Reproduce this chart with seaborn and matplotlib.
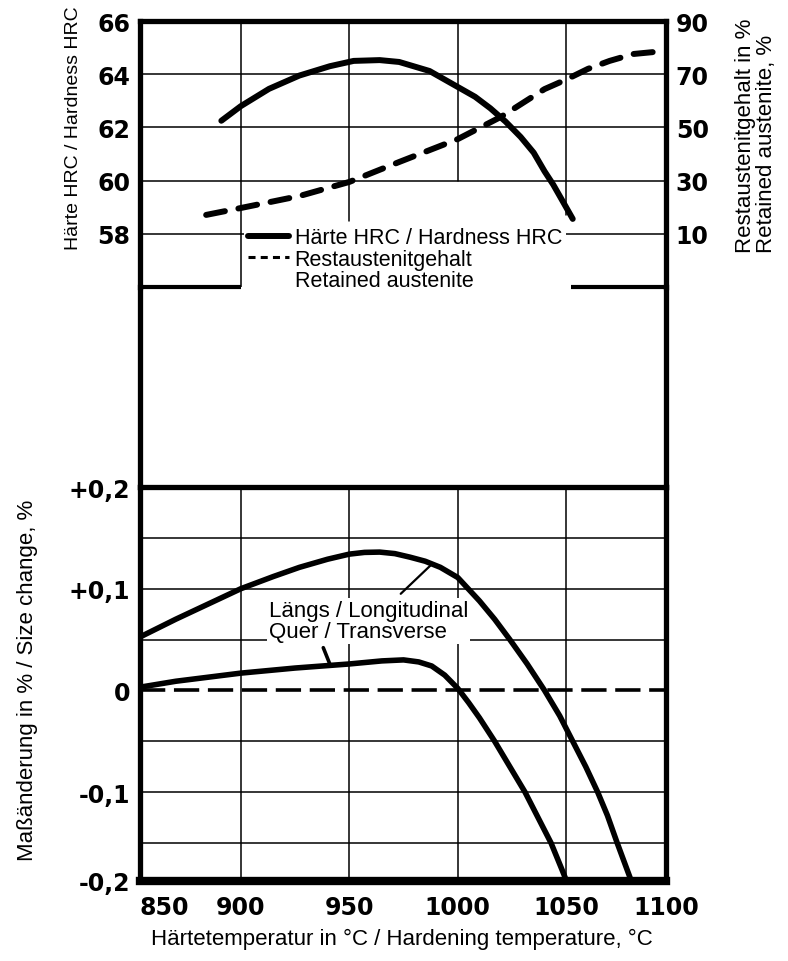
import matplotlib
matplotlib.use("Agg")
import matplotlib.pyplot as plt
import seaborn as sns
import pandas as pd
from matplotlib.lines import Line2D

# ---------------- data ----------------
hard_temp = [891, 900, 913, 927, 941, 952, 964, 973, 987, 1000, 1008, 1015, 1022, 1029, 1035, 1040, 1044, 1047.5, 1053]
hard_hrc = [62.25, 62.8, 63.45, 63.95, 64.3, 64.5, 64.53, 64.46, 64.12, 63.52, 63.15, 62.72, 62.22, 61.64,
            61.05, 60.35, 59.85, 59.35, 58.56]

ra_temp = [884, 900, 927, 950, 973, 1000, 1020, 1040, 1050, 1060, 1070, 1081, 1095]
ra_pct = [17.1, 19.7, 24.2, 29.5, 37.0, 45.6, 54.0, 64.4, 68.0, 72.0, 75.0, 77.6, 78.7]

laengs_temp = [853, 870, 885, 900, 915, 927, 940, 950, 957, 964, 971, 978, 985, 992, 1000, 1010, 1017, 1024,
               1032, 1040, 1047, 1053, 1059, 1064.5, 1069, 1073.5, 1080, 1082]
laengs_chg = [0.052, 0.07, 0.085, 0.1, 0.112, 0.121, 0.129, 0.134, 0.1357, 0.136, 0.1345, 0.131, 0.127,
              0.121, 0.111, 0.088, 0.07, 0.05, 0.026, 0.0, -0.025, -0.05, -0.075, -0.1, -0.123, -0.15,
              -0.1874, -0.2]

quer_temp = [853, 870, 900, 925, 950, 965, 975, 982, 988, 994, 1000, 1005, 1010, 1017, 1024, 1031, 1037,
             1043, 1048, 1052.5]
quer_chg = [0.003, 0.009, 0.017, 0.022, 0.026, 0.029, 0.03, 0.028, 0.024, 0.015, 0.002, -0.012, -0.027,
            -0.05, -0.075, -0.1, -0.125, -0.15, -0.176, -0.2]

x_tick_pos = [853.5, 900, 950, 1000, 1050, 1096]
x_tick_labels = ["850", "900", "950", "1000", "1050", "1100"]
hrc_ticks = [58, 60, 62, 64, 66]
ra_ticks = [10, 30, 50, 70, 90]
chg_tick_pos = [0.2, 0.1, 0.0, -0.1, -0.1874]
chg_tick_labels = ["+0,2", "+0,1", "0", "-0,1", "-0,2"]

legend_labels = ["Härte HRC / Hardness HRC", "Restaustenitgehalt", "Retained austenite"]

# ---------------- style ----------------
sns.set_theme(style="white")
plt.rcParams["font.family"] = ["Liberation Sans", "DejaVu Sans"]
for k in ["text.color", "axes.labelcolor", "xtick.color", "ytick.color", "axes.edgecolor"]:
    plt.rcParams[k] = "black"

XLIM = (853.5, 1096)
GRID = dict(color="black", lw=1.1, zorder=1)
SPINE_W = 3.8
TICKFONT = dict(fontfamily="DejaVu Sans", fontweight="bold", fontsize=17)

fig = plt.figure(figsize=(7.88, 9.62), dpi=100)
L, W = 140 / 788, 526 / 788
fy = lambda px: 1 - px / 962
ax_top = fig.add_axes([L, fy(288), W, (288 - 22) / 962])
ax_mid = fig.add_axes([L, fy(488), W, (488 - 288) / 962])
ax_bot = fig.add_axes([L, fy(882), W, (882 - 488) / 962])
for ax in (ax_top, ax_mid, ax_bot):
    ax.set_xlim(*XLIM)
    ax.set_facecolor("none")

xfrac = lambda t: (t - XLIM[0]) / (XLIM[1] - XLIM[0])

# ---------------- top panel ----------------
ax_top.set_ylim(56, 66)
for v in [58, 60, 62, 64]:
    ax_top.axhline(v, **GRID)
for xv, lo in [(900, 0), (950, 0.25), (1000, 0.4), (1050, 0.27)]:
    ax_top.axvline(xv, ymin=lo, **GRID)
ax_top.axhline(56, xmin=0, xmax=xfrac(900), color="black", lw=3, clip_on=False, solid_capstyle="butt")
ax_top.axhline(56, xmin=xfrac(1052), xmax=1, color="black", lw=3, clip_on=False, solid_capstyle="butt")

sns.lineplot(x=hard_temp, y=hard_hrc, ax=ax_top, color="black", lw=4.3,
             solid_capstyle="round", solid_joinstyle="round", errorbar=None, zorder=4)

ax_top.set_xticks([])
ax_top.set_yticks(hrc_ticks)
ax_top.set_yticklabels([str(v) for v in hrc_ticks], **TICKFONT)
ax_top.tick_params(axis="y", length=0, pad=7)
ax_top.spines["bottom"].set_visible(False)
for s in ["left", "right", "top"]:
    ax_top.spines[s].set_linewidth(SPINE_W)

ax2 = ax_top.twinx()
ax2.set_ylim(-10, 90)
sns.lineplot(x=ra_temp, y=ra_pct, ax=ax2, color="black", lw=4.3, linestyle=(0, (3.2, 2.3)),
             dash_capstyle="round", dash_joinstyle="round", errorbar=None, zorder=4)
ax2.set_yticks(ra_ticks)
ax2.set_yticklabels([str(v) for v in ra_ticks], **TICKFONT)
ax2.tick_params(axis="y", length=0, pad=7)
ax2.grid(False)
for s in ax2.spines.values():
    s.set_visible(False)

handles = [Line2D([], [], color="black", lw=4.3),
           Line2D([], [], color="black", lw=2.2, linestyle=(0, (2.3, 1.7))),
           Line2D([], [], color="none")]
leg = ax2.legend(handles, legend_labels, loc="upper left", bbox_to_anchor=(0.1977, 0.2406),
                 borderaxespad=0, borderpad=0.2, frameon=True, fancybox=False, facecolor="white",
                 edgecolor="none", framealpha=1, handlelength=1.9, handletextpad=0.25,
                 labelspacing=0.02, fontsize=15.5)
leg.set_zorder(10)

ax_top.set_ylabel("Härte HRC / Hardness HRC", fontsize=14, rotation=90, rotation_mode="default",
                  ha="center", va="center")
ax_top.yaxis.set_label_coords(-0.1255, 0.6015)
ax2.set_ylabel("Restaustenitgehalt in %\nRetained austenite, %", fontsize=16, rotation=90,
               rotation_mode="default", ha="center", va="center", multialignment="left", linespacing=1.0)
ax2.yaxis.set_label_coords(1.1720, 0.571)

# ---------------- middle (frame only) ----------------
ax_mid.set_xticks([])
ax_mid.set_yticks([])
ax_mid.spines["top"].set_visible(False)
ax_mid.spines["bottom"].set_visible(False)
for s in ["left", "right"]:
    ax_mid.spines[s].set_linewidth(SPINE_W)

# ---------------- bottom panel ----------------
ax_bot.set_ylim(-0.1874, 0.2)
for v in [0.15, 0.1, 0.05, -0.05, -0.1, -0.15]:
    ax_bot.axhline(v, **GRID)
for xv in [900, 950, 1000, 1050]:
    ax_bot.axvline(xv, **GRID)
ax_bot.axhline(0, color="black", lw=2.6, linestyle=(0, (7, 2.4)), zorder=2)

sns.lineplot(x=laengs_temp, y=laengs_chg, ax=ax_bot, color="black", lw=4.0,
             solid_capstyle="butt", solid_joinstyle="round", errorbar=None, zorder=4)
sns.lineplot(x=quer_temp, y=quer_chg, ax=ax_bot, color="black", lw=4.0,
             solid_capstyle="butt", solid_joinstyle="round", errorbar=None, zorder=4)

ax_bot.text(912.8, 0.0687, "Längs / Longitudinal\nQuer / Transverse", fontsize=16, ha="left",
            va="center", linespacing=1.0, zorder=3,
            bbox=dict(facecolor="white", edgecolor="none", pad=1.5))
ax_bot.annotate("", xy=(987.5, 0.123), xytext=(973.7, 0.095),
                arrowprops=dict(arrowstyle="-", color="black", lw=1.6, shrinkA=0, shrinkB=0), zorder=5)
ax_bot.annotate("", xy=(941, 0.026), xytext=(938, 0.042),
                arrowprops=dict(arrowstyle="-", color="black", lw=2.6, shrinkA=0, shrinkB=0), zorder=5)

ax_bot.set_xticks(x_tick_pos)
ax_bot.set_xticklabels(x_tick_labels, **TICKFONT)
ax_bot.get_xticklabels()[0].set_ha("left")
ax_bot.set_yticks(chg_tick_pos)
ax_bot.set_yticklabels(chg_tick_labels, **TICKFONT)
ax_bot.tick_params(axis="x", length=0, pad=10)
ax_bot.tick_params(axis="y", length=0, pad=7)
for s in ["left", "right", "top"]:
    ax_bot.spines[s].set_linewidth(SPINE_W)
ax_bot.spines["bottom"].set_linewidth(6)

ax_bot.set_ylabel("Maßänderung in % / Size change, %", fontsize=16, rotation=90,
                  rotation_mode="default", ha="center", va="center")
ax_bot.yaxis.set_label_coords(-0.2148, 0.5127)
ax_bot.set_xlabel("Härtetemperatur in °C / Hardening temperature, °C", fontsize=16,
                  ha="center", va="center")
ax_bot.xaxis.set_label_coords(0.498, -0.147)

fig.savefig("out.png", dpi=100)
